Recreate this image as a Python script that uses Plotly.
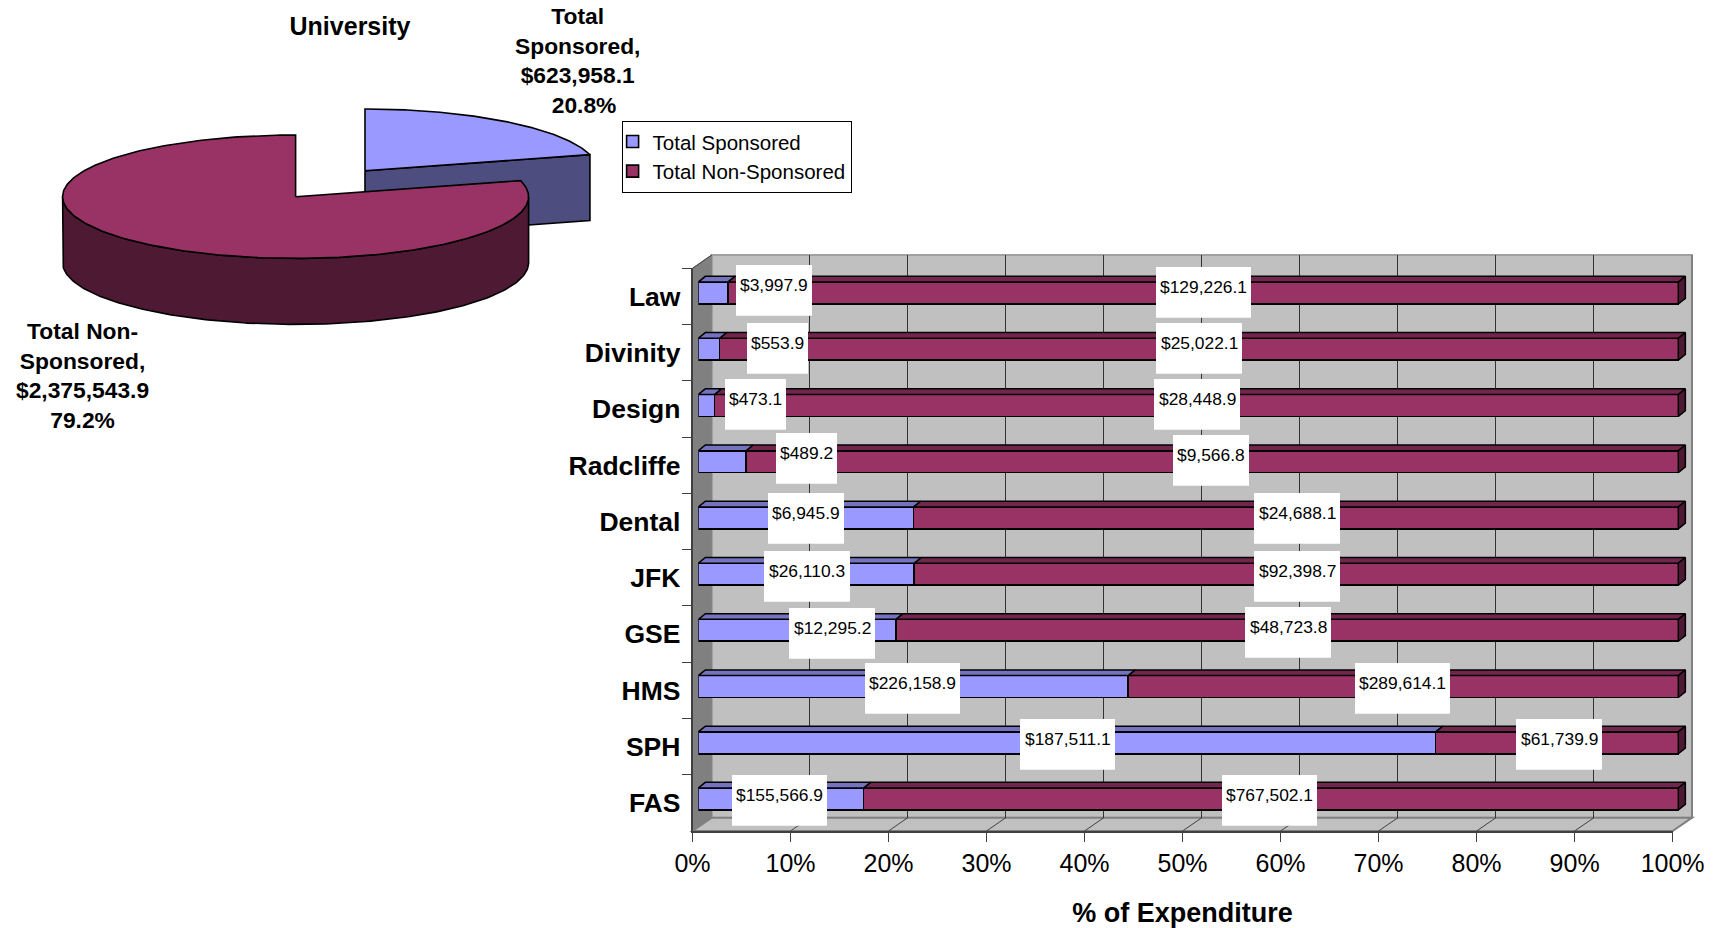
import numpy as np
import plotly.graph_objects as go

# ---- data ----
categories = ["Law", "Divinity", "Design", "Radcliffe", "Dental", "JFK", "GSE", "HMS", "SPH", "FAS"]
sponsored = [3997.9, 553.9, 473.1, 489.2, 6945.9, 26110.3, 12295.2, 226158.9, 187511.1, 155566.9]
non_sponsored = [129226.1, 25022.1, 28448.9, 9566.8, 24688.1, 92398.7, 48723.8, 289614.1, 61739.9, 767502.1]
pie_names = ["Total Sponsored", "Total Non-Sponsored"]
pie_values = [623958.1, 2375543.9]
x_ticks = list(range(0, 101, 10))

# ---- layout constants (pixels of the 1723x928 page) ----
W, H = 1723, 928
def px(x): return x / W
def py(y): return 1 - y / H
def dom(a, b): return [a / W, b / W]
def vdom(top, bot): return [1 - bot / H, 1 - top / H]

FRONT_L, FRONT_R, FRONT_T, FRONT_B = 692.5, 1672.6, 268.3, 831
BACK_L, BACK_R, BACK_T, BACK_B = 711.7, 1692, 255, 817.7
BAR_L, BAR_UNIT = 698.3, 9.8
BAND_T, BAND_B = 264.9, 827.1
BAR_GAP = 0.61
BAR_DX, BAR_DY = 0.72, 0.101

NAVY, PLUM = "#9999FF", "#993366"
NAVY_TOP, PLUM_TOP, PLUM_SIDE, NAVY_SIDE = "#7373BF", "#73264D", "#4D1933", "#4D4D80"
WALL, WALL_DARK, EDGE, INK = "#C0C0C0", "#808080", "#404040", "#000000"
SANS = "Liberation Sans, Arial, sans-serif"

# label boxes: centre x, top, width, in pixels (the original was moved by hand)
s_box = [(774, 265, 76), (777.5, 323, 61), (755.5, 379, 61), (806.5, 433, 61), (806, 493, 76),
         (807, 551, 86), (832, 608, 86), (912.5, 663, 95), (1067.5, 719, 95), (779.5, 775, 95)]
n_box = [(1203.5, 267, 95), (1199, 323, 86), (1197, 379, 86), (1211, 435, 76), (1297, 493, 86),
         (1297, 551, 86), (1288, 607, 86), (1402.5, 663, 95), (1559, 719, 86), (1269.5, 775, 95)]
BOX_H, BOX_TEXT = 50.7, 20

fig = go.Figure()

# back wall axes come first so their gridlines stay behind everything
fig.add_trace(go.Scatter(x=[0, 100], y=[0, 1], mode="markers", marker=dict(opacity=0), showlegend=False,
                         hoverinfo="skip", xaxis="x", yaxis="y"))
# front axes carrying ticks and category labels
fig.add_trace(go.Scatter(x=[0] * len(categories), y=categories, mode="markers", marker=dict(opacity=0),
                         showlegend=False, hoverinfo="skip", xaxis="x2", yaxis="y2"))

# bars
idx = list(range(len(categories)))
fig.add_trace(go.Bar(y=idx, x=sponsored, orientation="h", name=pie_names[0], marker=dict(color=NAVY, line=dict(color=INK, width=1.6)),
                     xaxis="x3", yaxis="y3", hoverinfo="name+x"))
fig.add_trace(go.Bar(y=idx, x=non_sponsored, orientation="h", name=pie_names[1], marker=dict(color=PLUM, line=dict(color=INK, width=1.6)),
                     xaxis="x3", yaxis="y3", hoverinfo="name+x"))

# 3-D faces of the bars follow from the same values
half = (1 - BAR_GAP) / 2
sx, sy, nx, ny, ex, ey = [], [], [], [], [], []
for i, (s, n) in enumerate(zip(sponsored, non_sponsored)):
    share = 100 * s / (s + n)
    t = i - half
    sx += [0, share, share + BAR_DX, BAR_DX, 0, None]
    sy += [t, t, t - BAR_DY, t - BAR_DY, t, None]
    nx += [share, 100, 100 + BAR_DX, share + BAR_DX, share, None]
    ny += [t, t, t - BAR_DY, t - BAR_DY, t, None]
    b = i + half
    ex += [100, 100 + BAR_DX, 100 + BAR_DX, 100, 100, None]
    ey += [t, t - BAR_DY, b - BAR_DY, b, t, None]
for xs, ys, col in [(nx, ny, PLUM_TOP), (sx, sy, NAVY_TOP), (ex, ey, PLUM_SIDE)]:
    fig.add_trace(go.Scatter(x=xs, y=ys, mode="lines", fill="toself", fillcolor=col, line=dict(color=INK, width=1.5),
                             showlegend=False, hoverinfo="skip", xaxis="x3", yaxis="y3"))

# 3-D pie, in unit-ellipse coordinates
PIE_CX, PIE_CY, PIE_A, PIE_B = 295.6, 196.7, 233, 61.7
PIE_DEPTH = 66 / PIE_B
EXPLODE_X, EXPLODE_Y = 69.4 / PIE_A, 26 / PIE_B
pie_share = pie_values[0] / sum(pie_values)
def arc(a, b, n=160):
    t = np.linspace(a, b, n)
    return np.sin(t), np.cos(t)
cut = 2 * np.pi * pie_share
rx, ry = np.sin(cut) + EXPLODE_X, np.cos(cut) + EXPLODE_Y
fx = [EXPLODE_X, rx, rx, EXPLODE_X, EXPLODE_X]
fy = [EXPLODE_Y, ry, ry - PIE_DEPTH, EXPLODE_Y - PIE_DEPTH, EXPLODE_Y]
ax_, ay_ = arc(0, cut)
tx = np.r_[EXPLODE_X, ax_ + EXPLODE_X, EXPLODE_X]
ty = np.r_[EXPLODE_Y, ay_ + EXPLODE_Y, EXPLODE_Y]
bx, by = arc(np.pi / 2, 3 * np.pi / 2)
wx = np.r_[bx, bx[::-1], bx[0]]
wy = np.r_[by, by[::-1] - PIE_DEPTH, by[0]]
cx, cy = arc(cut, 2 * np.pi, 300)
ux = np.r_[0, cx, 0]
uy = np.r_[0, cy, 0]
for xs, ys, col in [(fx, fy, NAVY_SIDE), (tx, ty, NAVY), (wx, wy, PLUM_SIDE), (ux, uy, PLUM)]:
    fig.add_trace(go.Scatter(x=list(xs), y=list(ys), mode="lines", fill="toself", fillcolor=col, line=dict(color=INK, width=1.6),
                             showlegend=False, hoverinfo="skip", xaxis="x4", yaxis="y4"))

# annotations
ann = []
shapes = []
def money(v): return "${:,.1f}".format(v)
for vals, boxes in [(sponsored, s_box), (non_sponsored, n_box)]:
    for v, (cxp, top, w) in zip(vals, boxes):
        shapes.append(dict(type="rect", xref="paper", yref="paper", x0=px(cxp - w / 2), x1=px(cxp + w / 2), y0=py(top), y1=py(top + BOX_H),
                           fillcolor="#FFFFFF", line=dict(width=0), layer="above"))
        ann.append(dict(xref="paper", yref="paper", x=px(cxp), y=py(top + BOX_TEXT), xanchor="center", yanchor="middle",
                        text=money(v), showarrow=False, font=dict(family=SANS, size=17.4, color="#000000")))
lab_font = dict(family=SANS, size=22.8, color="#000000", weight="bold")
ann.append(dict(xref="paper", yref="paper", x=px(577), y=py(60), xanchor="center", yanchor="middle", showarrow=False, align="center",
                text="Total<br>Sponsored,<br>" + money(pie_values[0]) + "<br>&nbsp;&nbsp;{:.1f}%".format(100 * pie_share), font=lab_font))
ann.append(dict(xref="paper", yref="paper", x=px(82), y=py(375.5), xanchor="center", yanchor="middle", showarrow=False, align="center",
                text="Total Non-<br>Sponsored,<br>" + money(pie_values[1]) + "<br>{:.1f}%".format(100 * (1 - pie_share)), font=lab_font))

# walls and floor
def poly(pts, fill, line, width=1.5):
    d = "M" + " L".join(f"{px(x):.5f},{py(y):.5f}" for x, y in pts) + " Z"
    return dict(type="path", xref="paper", yref="paper", path=d, fillcolor=fill, line=dict(color=line, width=width), layer="below")
shapes += [
    poly([(BACK_L, BACK_T), (BACK_R, BACK_T), (BACK_R, BACK_B), (BACK_L, BACK_B)], WALL, "#A0A0A0", 2),
    poly([(FRONT_L, FRONT_T), (BACK_L, BACK_T), (BACK_L, BACK_B), (FRONT_L, FRONT_B)], WALL_DARK, WALL_DARK, 1),
    poly([(FRONT_L, FRONT_B), (FRONT_R, FRONT_B), (BACK_R, BACK_B), (BACK_L, BACK_B)], WALL, WALL_DARK, 2),
]
shapes.append(dict(type="line", xref="paper", yref="paper", x0=px(BACK_R), x1=px(BACK_R), y0=py(BACK_T), y1=py(BACK_B),
                   line=dict(color=WALL_DARK, width=2), layer="below"))
shapes.append(dict(type="line", xref="paper", yref="paper", x0=px(FRONT_L), x1=px(BACK_L), y0=py(FRONT_T), y1=py(BACK_T),
                   line=dict(color=EDGE, width=1), layer="below"))
for v in x_ticks[1:-1]:
    f = FRONT_L + (FRONT_R - FRONT_L) * v / 100
    b = BACK_L + (BACK_R - BACK_L) * v / 100
    shapes.append(dict(type="line", xref="paper", yref="paper", x0=px(f), x1=px(b), y0=py(FRONT_B), y1=py(BACK_B),
                       line=dict(color=EDGE, width=1), layer="below"))

hide = dict(visible=False, showgrid=False, zeroline=False, automargin=False)
bar_right = BAR_L + BAR_UNIT * 102
pie_l, pie_r, pie_t, pie_b = 0, 620, 90, 340
fig.update_layout(
    template="none",
    width=W, height=H, autosize=False, margin=dict(l=0, r=0, t=0, b=0, pad=0),
    paper_bgcolor="#FFFFFF", plot_bgcolor="rgba(0,0,0,0)",
    barmode="stack", barnorm="percent", bargap=BAR_GAP,
    title=dict(text="University", x=px(350), y=py(26.5), xanchor="center", yanchor="middle", xref="paper", yref="paper",
               font=dict(family=SANS, size=25, color="#000000", weight="bold")),
    showlegend=True,
    legend=dict(x=px(621.6), y=py(120.7), xanchor="left", yanchor="top", bgcolor="#FFFFFF", bordercolor="#000000", borderwidth=1,
                indentation=-10, font=dict(family=SANS, size=20.5, color="#000000"), traceorder="normal"),
    xaxis=dict(domain=dom(BACK_L, BACK_R), range=[0, 100], anchor="y", showgrid=True, gridcolor="#333333", gridwidth=1.3, automargin=False,
               tickvals=x_ticks[1:-1], showticklabels=False, ticks="", zeroline=False, showline=False),
    yaxis=dict(domain=vdom(BACK_T, BACK_B), range=[0, 1], anchor="x", showgrid=False, zeroline=False, showticklabels=False, ticks="", automargin=False),
    xaxis2=dict(domain=dom(FRONT_L, FRONT_R), range=[0, 100], anchor="y2", showgrid=False, zeroline=False, showline=True, automargin=False,
                linecolor=EDGE, linewidth=2, tickvals=x_ticks, ticktext=[f"{v}%" for v in x_ticks], ticks="outside", ticklen=9,
                tickcolor=EDGE, tickwidth=1, tickfont=dict(family=SANS, size=25, color="#000000"),
                title=dict(text="% of Expenditure", standoff=29, font=dict(family=SANS, size=27, color="#000000", weight="bold"))),
    yaxis2=dict(domain=vdom(FRONT_T, FRONT_B), type="category", categoryorder="array", categoryarray=categories,
                range=[len(categories) - 0.5, -0.5],
                anchor="x2", showgrid=False, zeroline=False, showline=True, linecolor=EDGE, linewidth=1.5, ticks="outside", ticklen=9, automargin=False,
                tickson="boundaries", tickcolor=EDGE, tickwidth=1, ticklabelstandoff=5,
                tickfont=dict(family=SANS, size=26.5, color="#000000", weight="bold")),
    xaxis3=dict(domain=dom(BAR_L, bar_right), range=[0, 102], anchor="y3", **hide),
    yaxis3=dict(domain=vdom(BAND_T, BAND_B), range=[len(categories) - 0.5, -0.5], anchor="x3", **hide),
    xaxis4=dict(domain=dom(pie_l, pie_r), range=[(pie_l - PIE_CX) / PIE_A, (pie_r - PIE_CX) / PIE_A], anchor="y4", **hide),
    yaxis4=dict(domain=vdom(pie_t, pie_b), range=[(PIE_CY - pie_b) / PIE_B, (PIE_CY - pie_t) / PIE_B], anchor="x4", **hide),
    annotations=ann, shapes=shapes,
)
fig.write_html("out.html", config={"displayModeBar": False}, post_script="document.body.style.margin='0';")
